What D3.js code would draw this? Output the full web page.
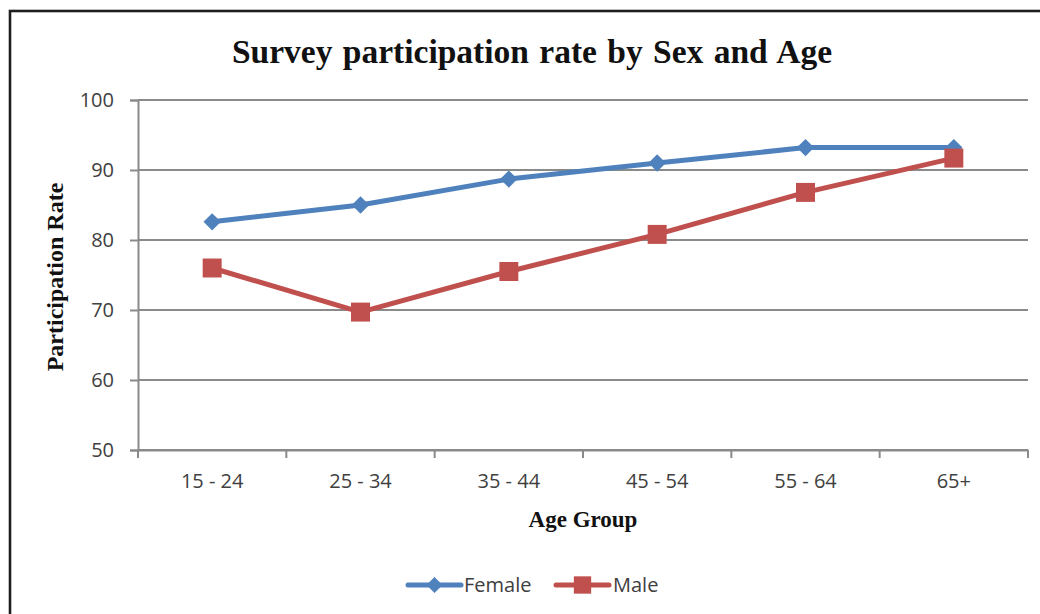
<!DOCTYPE html>
<html>
<head>
<meta charset="utf-8">
<script src="https://cdn.jsdelivr.net/npm/d3@7"></script>
<style>
  html, body { margin: 0; padding: 0; background: #fff; }
  svg { display: block; }
</style>
</head>
<body>
<svg id="chart" width="1040" height="614"></svg>
<script>
// Age groups and participation rates (%)
const ageGroups = ["15 - 24", "25 - 34", "35 - 44", "45 - 54", "55 - 64", "65+"];
const female = [82.6, 85.0, 88.7, 91.0, 93.2, 93.2];
const male = [76.0, 69.7, 75.5, 80.8, 86.8, 91.7];
const yTicks = [50, 60, 70, 80, 90, 100];

const series = [
  { name: "Female", values: female, color: "#4F81BD", marker: "diamond" },
  { name: "Male", values: male, color: "#C0504D", marker: "square" }
];

const svg = d3.select("#chart");
const plot = { left: 138, right: 1028, top: 100, bottom: 450 };

const x = d3.scaleBand().domain(ageGroups).range([plot.left, plot.right]);
const y = d3.scaleLinear().domain([50, 100]).range([plot.bottom, plot.top]);

// outer frame
svg.append("rect")
  .attr("x", 10).attr("y", 11)
  .attr("width", 1060).attr("height", 640)
  .attr("fill", "#fff").attr("stroke", "#1e1e1e").attr("stroke-width", 2.6);

// title
svg.append("text")
  .attr("x", 532).attr("y", 63)
  .attr("text-anchor", "middle")
  .attr("font-family", "Liberation Serif, Times New Roman, serif")
  .attr("font-weight", "bold")
  .attr("font-size", 33.5)
  .attr("word-spacing", 2)
  .attr("fill", "#111")
  .text("Survey participation rate by Sex and Age");

// horizontal gridlines
svg.append("g")
  .selectAll("line")
  .data(yTicks)
  .join("line")
  .attr("x1", plot.left).attr("x2", plot.right)
  .attr("y1", d => y(d)).attr("y2", d => y(d))
  .attr("stroke", "#8a8a8a").attr("stroke-width", 2);

// y axis
const yAxis = svg.append("g")
  .attr("transform", `translate(${plot.left},0)`)
  .call(d3.axisLeft(y).tickValues(yTicks).tickSize(8).tickPadding(16));
yAxis.select(".domain").attr("stroke", "#8a8a8a").attr("stroke-width", 2);
yAxis.selectAll(".tick line").attr("stroke", "#8a8a8a").attr("stroke-width", 2);
yAxis.selectAll(".tick text")
  .attr("font-family", "Open Sans, Liberation Sans, sans-serif")
  .attr("font-size", 20).attr("fill", "#404040");

// x axis, ticks on category boundaries
const xAxis = svg.append("g")
  .attr("transform", `translate(0,${plot.bottom})`)
  .call(d3.axisBottom(x).tickSize(0).tickPadding(24));
xAxis.select(".domain").attr("stroke", "#8a8a8a").attr("stroke-width", 2);
xAxis.selectAll(".tick text")
  .attr("font-family", "Open Sans, Liberation Sans, sans-serif")
  .attr("font-size", 20).attr("fill", "#404040");
const boundaries = ageGroups.map(d => x(d)).concat([x(ageGroups[ageGroups.length - 1]) + x.bandwidth()]);
xAxis.selectAll("line.boundary")
  .data(boundaries)
  .join("line")
  .attr("class", "boundary")
  .attr("x1", d => d).attr("x2", d => d)
  .attr("y1", 0).attr("y2", 8)
  .attr("stroke", "#8a8a8a").attr("stroke-width", 2);

// axis titles
svg.append("text")
  .attr("transform", `translate(63,${(plot.top + plot.bottom) / 2 + 2}) rotate(-90)`)
  .attr("text-anchor", "middle")
  .attr("font-family", "Liberation Serif, Times New Roman, serif")
  .attr("font-weight", "bold").attr("font-size", 24).attr("fill", "#111")
  .text("Participation Rate");

svg.append("text")
  .attr("x", (plot.left + plot.right) / 2).attr("y", 527)
  .attr("text-anchor", "middle")
  .attr("font-family", "Liberation Serif, Times New Roman, serif")
  .attr("font-weight", "bold").attr("font-size", 23).attr("fill", "#111")
  .text("Age Group");

const cx = d => x(d) + x.bandwidth() / 2;
const line = d3.line().x((d, i) => cx(ageGroups[i])).y(d => y(d));

// diamond = square turned 45°, square = axis-aligned
const markerPath = (m, size) => d3.symbol().type(d3.symbolSquare).size(size)();
const markerRot = m => (m === "diamond" ? " rotate(45)" : "");

// series lines and markers
series.forEach(s => {
  const g = svg.append("g");
  g.append("path")
    .datum(s.values)
    .attr("d", line)
    .attr("fill", "none")
    .attr("stroke", s.color)
    .attr("stroke-width", 5)
    .attr("stroke-linejoin", "round");
  g.selectAll("path.marker")
    .data(s.values)
    .join("path")
    .attr("class", "marker")
    .attr("transform", (d, i) => `translate(${cx(ageGroups[i])},${y(d)})${markerRot(s.marker)}`)
    .attr("d", markerPath(s.marker, s.marker === "diamond" ? 150 : 360))
    .attr("fill", s.color);
});

// legend
const legendItems = [
  { s: series[0], x0: 408, x1: 461, tx: 464 },
  { s: series[1], x0: 556, x1: 609, tx: 613 }
];
const legend = svg.append("g");
legendItems.forEach(it => {
  const ly = 585;
  legend.append("line")
    .attr("x1", it.x0).attr("x2", it.x1)
    .attr("y1", ly).attr("y2", ly)
    .attr("stroke", it.s.color).attr("stroke-width", 5).attr("stroke-linecap", "round");
  legend.append("path")
    .attr("transform", `translate(${(it.x0 + it.x1) / 2},${ly})${markerRot(it.s.marker)}`)
    .attr("d", markerPath(it.s.marker, it.s.marker === "diamond" ? 130 : 300))
    .attr("fill", it.s.color);
  legend.append("text")
    .attr("x", it.tx).attr("y", ly + 7)
    .attr("font-family", "Open Sans, Liberation Sans, sans-serif")
    .attr("font-size", 20).attr("fill", "#404040")
    .text(it.s.name);
});
</script>
</body>
</html>
